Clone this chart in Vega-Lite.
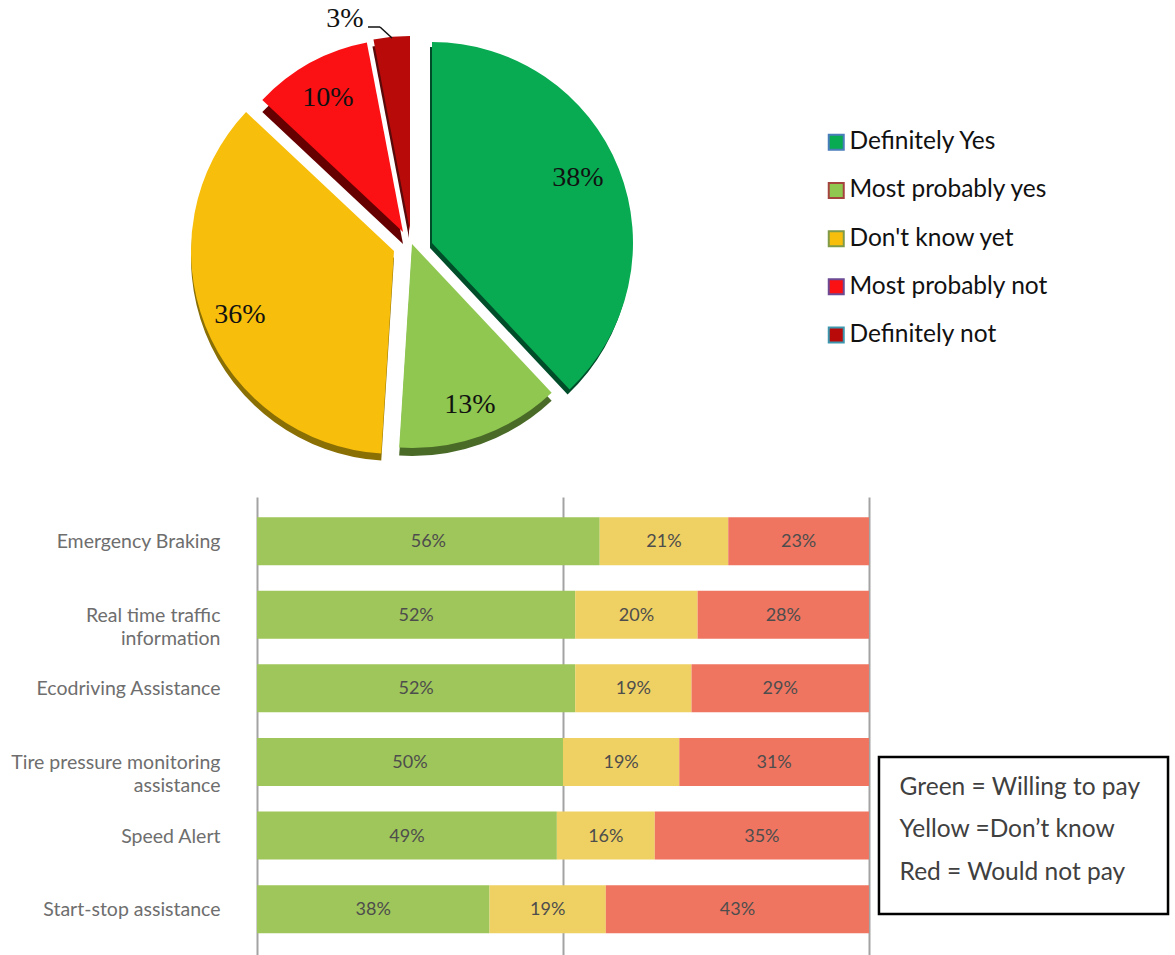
{
"$schema":"https://vega.github.io/schema/vega-lite/v6.json",
"padding":0,"background":"white","spacing":0,"bounds":"flush",
"config":{"view":{"stroke":null}},
"resolve":{"scale":{"color":"independent"}},
"vconcat":[
{"width":1175,"height":497,
"data":{"values":[
{"answer":"Definitely Yes","share":38,"rank":1,"label":"38%"},
{"answer":"Most probably yes","share":13,"rank":2,"label":"13%"},
{"answer":"Don't know yet","share":36,"rank":3,"label":"36%"},
{"answer":"Most probably not","share":10,"rank":4,"label":"10%"},
{"answer":"Definitely not","share":3,"rank":5,"label":"3%"}]},
"transform":[{"stack":"share","sort":[{"field":"rank"}],"as":["t0","t1"]}],
"layer":[
{"transform":[{"filter":"datum.rank==1"}],"mark":{"type":"arc","radius":201,"fill":"#004d2a"},
"encoding":{"x":{"datum":430,"type":"quantitative","scale":{"domain":[0,1175],"nice":false,"zero":false},"axis":null},"y":{"datum":248,"type":"quantitative","scale":{"domain":[497,0],"nice":false,"zero":false},"axis":null},"theta":{"field":"t0","type":"quantitative","scale":{"domain":[0,100]}},"theta2":{"field":"t1"}}},
{"transform":[{"filter":"datum.rank==2"}],"mark":{"type":"arc","radius":204,"fill":"#4a6a28"},
"encoding":{"x":{"datum":412,"type":"quantitative","scale":{"domain":[0,1175],"nice":false,"zero":false},"axis":null},"y":{"datum":252,"type":"quantitative","scale":{"domain":[497,0],"nice":false,"zero":false},"axis":null},"theta":{"field":"t0","type":"quantitative","scale":{"domain":[0,100]}},"theta2":{"field":"t1"}}},
{"transform":[{"filter":"datum.rank==3"}],"mark":{"type":"arc","radius":203,"fill":"#8a6f05"},
"encoding":{"x":{"datum":394,"type":"quantitative","scale":{"domain":[0,1175],"nice":false,"zero":false},"axis":null},"y":{"datum":258,"type":"quantitative","scale":{"domain":[497,0],"nice":false,"zero":false},"axis":null},"theta":{"field":"t0","type":"quantitative","scale":{"domain":[0,100]}},"theta2":{"field":"t1"}}},
{"transform":[{"filter":"datum.rank==4"}],"mark":{"type":"arc","radius":193,"fill":"#660000"},
"encoding":{"x":{"datum":403,"type":"quantitative","scale":{"domain":[0,1175],"nice":false,"zero":false},"axis":null},"y":{"datum":244,"type":"quantitative","scale":{"domain":[497,0],"nice":false,"zero":false},"axis":null},"theta":{"field":"t0","type":"quantitative","scale":{"domain":[0,100]}},"theta2":{"field":"t1"}}},
{"transform":[{"filter":"datum.rank==5"}],"mark":{"type":"arc","radius":195,"fill":"#5a0a0a"},
"encoding":{"x":{"datum":409,"type":"quantitative","scale":{"domain":[0,1175],"nice":false,"zero":false},"axis":null},"y":{"datum":238,"type":"quantitative","scale":{"domain":[497,0],"nice":false,"zero":false},"axis":null},"theta":{"field":"t0","type":"quantitative","scale":{"domain":[0,100]}},"theta2":{"field":"t1"}}},
{"transform":[{"filter":"datum.rank==1"}],"mark":{"type":"arc","radius":201,"strokeWidth":0},
"encoding":{"x":{"datum":432,"type":"quantitative","scale":{"domain":[0,1175],"nice":false,"zero":false},"axis":null},"y":{"datum":243,"type":"quantitative","scale":{"domain":[497,0],"nice":false,"zero":false},"axis":null},"theta":{"field":"t0","type":"quantitative","scale":{"domain":[0,100]}},"theta2":{"field":"t1"},
"color":{"field":"answer","type":"nominal","scale":{"domain":["Definitely Yes","Most probably yes","Don't know yet","Most probably not","Definitely not"],"range":["#08ab52","#8fc750","#f8be0c","#fb1014","#b90a0a"]},"legend":{"title":null,"orient":"none","legendX":824,"legendY":130,"symbolType":"square","symbolSize":225,"symbolStrokeWidth":0,"labelFont":"Lato","labelFontSize":24.5,"labelColor":"#111111","rowPadding":23.2,"labelOffset":1,"labelLimit":300}},
"stroke":{"field":"answer","type":"nominal","scale":{"domain":["Definitely not","Most probably not","Don't know yet","Most probably yes","Definitely Yes"],"range":["#3c97ae","#6c4a94","#7f9a48","#a5443f","#4a7ebb"]},"legend":{"title":null,"orient":"none","legendX":824,"legendY":130,"values":["Definitely Yes","Most probably yes","Don't know yet","Most probably not","Definitely not"],"symbolType":"square","symbolSize":225,"symbolStrokeWidth":2,"symbolFillColor":"transparent","labelFont":"Lato","labelFontSize":24.5,"labelExpr":"''","rowPadding":23.2,"labelOffset":1}}}},
{"transform":[{"filter":"datum.rank==2"}],"mark":{"type":"arc","radius":204,"strokeWidth":0},
"encoding":{"x":{"datum":412,"type":"quantitative","scale":{"domain":[0,1175],"nice":false,"zero":false},"axis":null},"y":{"datum":244,"type":"quantitative","scale":{"domain":[497,0],"nice":false,"zero":false},"axis":null},"theta":{"field":"t0","type":"quantitative","scale":{"domain":[0,100]}},"theta2":{"field":"t1"},"color":{"field":"answer","type":"nominal"}}},
{"transform":[{"filter":"datum.rank==3"}],"mark":{"type":"arc","radius":203,"strokeWidth":0},
"encoding":{"x":{"datum":394,"type":"quantitative","scale":{"domain":[0,1175],"nice":false,"zero":false},"axis":null},"y":{"datum":251,"type":"quantitative","scale":{"domain":[497,0],"nice":false,"zero":false},"axis":null},"theta":{"field":"t0","type":"quantitative","scale":{"domain":[0,100]}},"theta2":{"field":"t1"},"color":{"field":"answer","type":"nominal"}}},
{"transform":[{"filter":"datum.rank==4"}],"mark":{"type":"arc","radius":193,"strokeWidth":0},
"encoding":{"x":{"datum":403,"type":"quantitative","scale":{"domain":[0,1175],"nice":false,"zero":false},"axis":null},"y":{"datum":232,"type":"quantitative","scale":{"domain":[497,0],"nice":false,"zero":false},"axis":null},"theta":{"field":"t0","type":"quantitative","scale":{"domain":[0,100]}},"theta2":{"field":"t1"},"color":{"field":"answer","type":"nominal"}}},
{"transform":[{"filter":"datum.rank==5"}],"mark":{"type":"arc","radius":195,"strokeWidth":0},
"encoding":{"x":{"datum":410,"type":"quantitative","scale":{"domain":[0,1175],"nice":false,"zero":false},"axis":null},"y":{"datum":231,"type":"quantitative","scale":{"domain":[497,0],"nice":false,"zero":false},"axis":null},"theta":{"field":"t0","type":"quantitative","scale":{"domain":[0,100]}},"theta2":{"field":"t1"},"color":{"field":"answer","type":"nominal"}}},
{"transform":[{"filter":"datum.rank==5"}],"mark":{"type":"rule","color":"#111111","strokeWidth":1.5},
"encoding":{"x":{"datum":368,"type":"quantitative","scale":{"domain":[0,1175],"nice":false,"zero":false},"axis":null},"x2":{"datum":380},"y":{"datum":27,"type":"quantitative","scale":{"domain":[497,0],"nice":false,"zero":false},"axis":null},"y2":{"datum":27}}},
{"transform":[{"filter":"datum.rank==5"}],"mark":{"type":"rule","color":"#111111","strokeWidth":1.5},
"encoding":{"x":{"datum":380,"type":"quantitative","scale":{"domain":[0,1175],"nice":false,"zero":false},"axis":null},"x2":{"datum":392},"y":{"datum":27,"type":"quantitative","scale":{"domain":[497,0],"nice":false,"zero":false},"axis":null},"y2":{"datum":38}}},
{"transform":[{"filter":"datum.rank==1"}],"mark":{"type":"text","font":"Liberation Serif","fontSize":28,"color":"#111111","baseline":"middle"},
"encoding":{"x":{"datum":578,"type":"quantitative","scale":{"domain":[0,1175],"nice":false,"zero":false},"axis":null},"y":{"datum":178,"type":"quantitative","scale":{"domain":[497,0],"nice":false,"zero":false},"axis":null},"text":{"field":"label"}}},
{"transform":[{"filter":"datum.rank==2"}],"mark":{"type":"text","font":"Liberation Serif","fontSize":28,"color":"#111111","baseline":"middle"},
"encoding":{"x":{"datum":470,"type":"quantitative","scale":{"domain":[0,1175],"nice":false,"zero":false},"axis":null},"y":{"datum":405,"type":"quantitative","scale":{"domain":[497,0],"nice":false,"zero":false},"axis":null},"text":{"field":"label"}}},
{"transform":[{"filter":"datum.rank==3"}],"mark":{"type":"text","font":"Liberation Serif","fontSize":28,"color":"#111111","baseline":"middle"},
"encoding":{"x":{"datum":240,"type":"quantitative","scale":{"domain":[0,1175],"nice":false,"zero":false},"axis":null},"y":{"datum":315,"type":"quantitative","scale":{"domain":[497,0],"nice":false,"zero":false},"axis":null},"text":{"field":"label"}}},
{"transform":[{"filter":"datum.rank==4"}],"mark":{"type":"text","font":"Liberation Serif","fontSize":28,"color":"#111111","baseline":"middle"},
"encoding":{"x":{"datum":328,"type":"quantitative","scale":{"domain":[0,1175],"nice":false,"zero":false},"axis":null},"y":{"datum":98,"type":"quantitative","scale":{"domain":[497,0],"nice":false,"zero":false},"axis":null},"text":{"field":"label"}}},
{"transform":[{"filter":"datum.rank==5"}],"mark":{"type":"text","font":"Liberation Serif","fontSize":28,"color":"#111111","baseline":"middle"},
"encoding":{"x":{"datum":345,"type":"quantitative","scale":{"domain":[0,1175],"nice":false,"zero":false},"axis":null},"y":{"datum":19,"type":"quantitative","scale":{"domain":[497,0],"nice":false,"zero":false},"axis":null},"text":{"field":"label"}}}
]},
{"width":1175,"height":458,
"resolve":{"scale":{"y":"independent"}},
"layer":[
{"data":{"values":[
{"feature":"Emergency Braking","response":"Willing to pay","rank":1,"pct":56},{"feature":"Emergency Braking","response":"Don't know","rank":2,"pct":21},{"feature":"Emergency Braking","response":"Would not pay","rank":3,"pct":23},
{"feature":"Real time traffic information","response":"Willing to pay","rank":1,"pct":52},{"feature":"Real time traffic information","response":"Don't know","rank":2,"pct":20},{"feature":"Real time traffic information","response":"Would not pay","rank":3,"pct":28},
{"feature":"Ecodriving Assistance","response":"Willing to pay","rank":1,"pct":52},{"feature":"Ecodriving Assistance","response":"Don't know","rank":2,"pct":19},{"feature":"Ecodriving Assistance","response":"Would not pay","rank":3,"pct":29},
{"feature":"Tire pressure monitoring assistance","response":"Willing to pay","rank":1,"pct":50},{"feature":"Tire pressure monitoring assistance","response":"Don't know","rank":2,"pct":19},{"feature":"Tire pressure monitoring assistance","response":"Would not pay","rank":3,"pct":31},
{"feature":"Speed Alert","response":"Willing to pay","rank":1,"pct":49},{"feature":"Speed Alert","response":"Don't know","rank":2,"pct":16},{"feature":"Speed Alert","response":"Would not pay","rank":3,"pct":35},
{"feature":"Start-stop assistance","response":"Willing to pay","rank":1,"pct":38},{"feature":"Start-stop assistance","response":"Don't know","rank":2,"pct":19},{"feature":"Start-stop assistance","response":"Would not pay","rank":3,"pct":43}]},
"transform":[{"stack":"pct","groupby":["feature"],"sort":[{"field":"rank"}],"as":["x0","x1"]},{"calculate":"(datum.x0+datum.x1)/2","as":"mid"},{"calculate":"datum.pct+'%'","as":"pctLabel"}],
"layer":[
{"mark":{"type":"bar"},
"encoding":{"y":{"field":"feature","type":"nominal","sort":null,"title":null,"scale":{"paddingInner":0.348,"paddingOuter":0.285,"align":0.48},"axis":{"offset":-220,"ticks":false,"domain":false,"labelPadding":0,"labelFont":"Lato","labelFontSize":19.5,"labelColor":"#6e6e6e","labelLimit":300,"labelLineHeight":23,"labelOffset":1,"labelExpr":"datum.label=='Real time traffic information'?['Real time traffic','information']:datum.label=='Tire pressure monitoring assistance'?['Tire pressure monitoring','assistance']:datum.label"}},
"x":{"field":"x0","type":"quantitative","title":null,"scale":{"domain":[-41.99,150],"nice":false,"zero":false},"axis":{"values":[0,50,100],"grid":true,"gridColor":"#a3a3a3","gridWidth":2,"labels":false,"ticks":false,"domain":false,"title":null}},
"x2":{"field":"x1"},
"color":{"field":"response","type":"nominal","legend":null,"scale":{"domain":["Willing to pay","Don't know","Would not pay"],"range":["#9fc65a","#efd062","#ef7561"]}}}},
{"mark":{"type":"text","font":"Lato","fontSize":18,"color":"#4d4d4d","dy":1},
"encoding":{"y":{"field":"feature","type":"nominal","sort":null,"title":null},
"x":{"field":"mid","type":"quantitative"},
"text":{"field":"pctLabel","type":"nominal"}}}
]},
{"layer":[
{"data":{"values":[{"item":"key box"}]},"mark":{"type":"rect","fill":"white","stroke":"#000000","strokeWidth":2.5},
"encoding":{"x":{"datum":101.63,"type":"quantitative","scale":{"domain":[-41.99,150],"nice":false,"zero":false}},"x2":{"datum":148.86},"y":{"datum":757,"type":"quantitative","scale":{"domain":[955,497],"nice":false,"zero":false},"axis":null},"y2":{"datum":914}}},
{"data":{"values":[{"note":"Green = Willing to pay"}]},"mark":{"type":"text","font":"Lato","fontSize":24.5,"color":"#404040","align":"left","baseline":"middle"},
"encoding":{"x":{"datum":105,"type":"quantitative"},"y":{"datum":787.5,"type":"quantitative"},"text":{"field":"note"}}},
{"data":{"values":[{"note":"Yellow =Don\u2019t know"}]},"mark":{"type":"text","font":"Lato","fontSize":24.5,"color":"#404040","align":"left","baseline":"middle"},
"encoding":{"x":{"datum":105,"type":"quantitative"},"y":{"datum":829.5,"type":"quantitative"},"text":{"field":"note"}}},
{"data":{"values":[{"note":"Red = Would not pay"}]},"mark":{"type":"text","font":"Lato","fontSize":24.5,"color":"#404040","align":"left","baseline":"middle"},
"encoding":{"x":{"datum":105,"type":"quantitative"},"y":{"datum":872.5,"type":"quantitative"},"text":{"field":"note"}}}
]}
]}
]}
